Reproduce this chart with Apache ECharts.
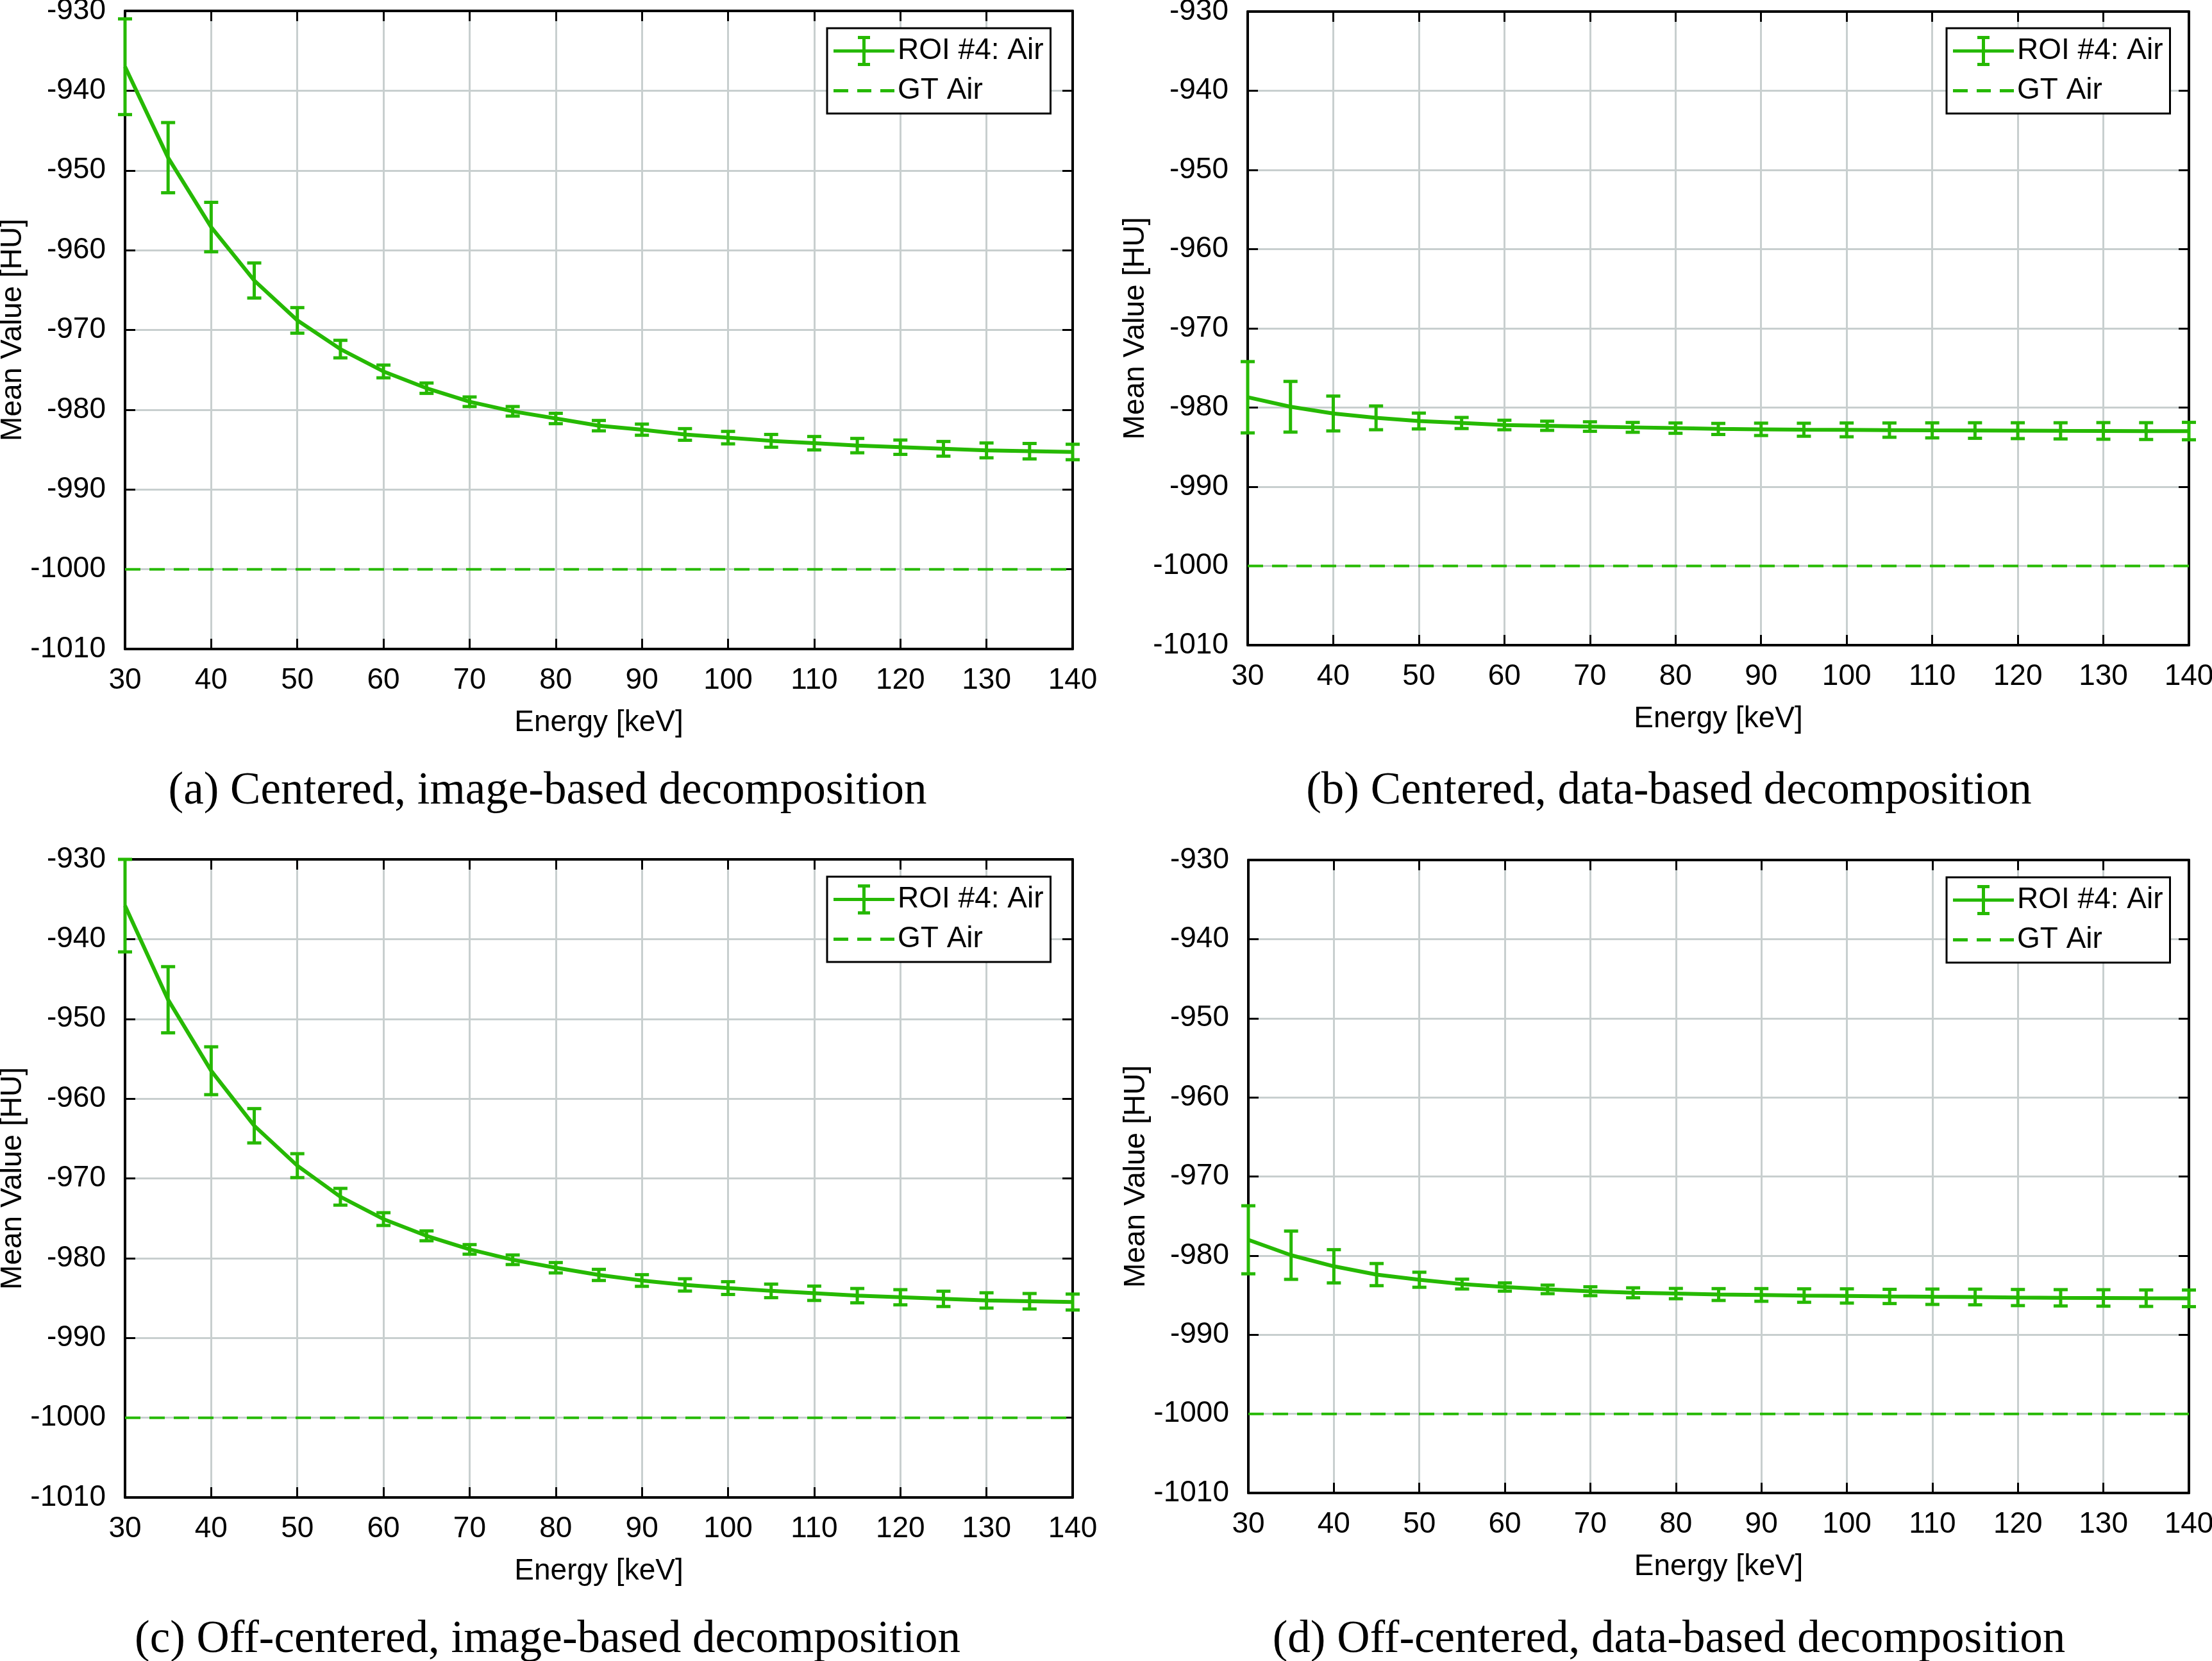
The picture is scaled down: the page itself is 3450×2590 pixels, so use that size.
<!DOCTYPE html>
<html>
<head>
<meta charset="utf-8">
<script src="https://cdn.jsdelivr.net/npm/echarts@6/dist/echarts.min.js"></script>
<style>
  html, body { margin: 0; padding: 0; background: #fff; }
  #chart { width: 3450px; height: 2590px; }
</style>
</head>
<body>
<div id="chart"></div>
<script>
// energies in keV
const energy = [30, 35, 40, 45, 50, 55, 60, 65, 70, 75, 80, 85, 90, 95, 100, 105, 110, 115, 120, 125, 130, 135, 140]

// (a) centered, image-based
const meanA = [-937.0, -948.4, -957.1, -963.8, -968.8, -972.4, -975.2, -977.3, -979.0, -980.2, -981.1, -982.0, -982.5, -983.1, -983.5, -983.9, -984.2, -984.5, -984.7, -984.9, -985.1, -985.2, -985.3]
const errA = [6.0, 4.4, 3.1, 2.2, 1.6, 1.1, 0.8, 0.65, 0.6, 0.6, 0.65, 0.65, 0.7, 0.73, 0.78, 0.8, 0.84, 0.9, 0.9, 0.92, 0.93, 0.97, 0.97]
// (b) centered, data-based
const meanB = [-978.7, -979.9, -980.75, -981.3, -981.7, -981.95, -982.2, -982.3, -982.4, -982.5, -982.6, -982.7, -982.75, -982.8, -982.82, -982.85, -982.88, -982.9, -982.92, -982.94, -982.95, -982.97, -982.97]
const errB = [4.5, 3.2, 2.2, 1.5, 1.0, 0.7, 0.6, 0.58, 0.6, 0.62, 0.65, 0.7, 0.78, 0.82, 0.87, 0.9, 0.95, 0.98, 1.0, 1.02, 1.05, 1.06, 1.1]
// (c) off-centered, image-based
const meanC = [-935.8, -947.6, -956.5, -963.4, -968.4, -972.3, -975.1, -977.2, -978.9, -980.2, -981.2, -982.1, -982.8, -983.35, -983.75, -984.1, -984.4, -984.7, -984.9, -985.1, -985.3, -985.4, -985.5]
const errC = [5.8, 4.15, 3.0, 2.15, 1.5, 1.05, 0.8, 0.62, 0.6, 0.6, 0.65, 0.7, 0.73, 0.77, 0.8, 0.85, 0.9, 0.9, 0.95, 0.96, 0.96, 0.97, 1.0]
// (d) off-centered, data-based
const meanD = [-978.0, -979.95, -981.35, -982.4, -983.05, -983.6, -983.97, -984.27, -984.5, -984.7, -984.8, -984.92, -984.97, -985.05, -985.1, -985.16, -985.2, -985.23, -985.3, -985.33, -985.35, -985.38, -985.4]
const errD = [4.3, 3.05, 2.1, 1.4, 0.95, 0.62, 0.52, 0.54, 0.56, 0.63, 0.65, 0.75, 0.8, 0.85, 0.9, 0.9, 0.97, 0.99, 1.02, 1.03, 1.04, 1.04, 1.05]

// ground truth for air
const gtAir = -1000
const gtRange = [30, 140]

const captions = [
  '(a) Centered, image-based decomposition',
  '(b) Centered, data-based decomposition',
  '(c) Off-centered, image-based decomposition',
  '(d) Off-centered, data-based decomposition'
]

const GREEN = '#26b902'
const GRIDCOL = '#c8cfcf'
const SANS = 'Liberation Sans'

// panel layout
const panels = [
  { grid: { left: 195, top: 17, width: 1478, height: 995 }, mean: meanA, err: errA, legend: { left: 1290, top: 44 }, cap: [854, 1234] },
  { grid: { left: 1946, top: 18, width: 1468, height: 988 }, mean: meanB, err: errB, legend: { left: 3036, top: 44 }, cap: [2603, 1234] },
  { grid: { left: 195, top: 1340, width: 1478, height: 995 }, mean: meanC, err: errC, legend: { left: 1290, top: 1367 }, cap: [854, 2557] },
  { grid: { left: 1947, top: 1341, width: 1467, height: 987 }, mean: meanD, err: errD, legend: { left: 3036, top: 1368 }, cap: [2603, 2557] }
]

// 误差棒
function errorBarItem(params, api) {
  const x = api.value(0)
  const top = api.coord([x, api.value(2)])
  const bot = api.coord([x, api.value(1)])
  const hw = 11
  const style = { stroke: GREEN, lineWidth: 5 }
  return {
    type: 'group',
    children: [
      { type: 'line', shape: { x1: top[0], y1: top[1], x2: bot[0], y2: bot[1] }, style },
      { type: 'line', shape: { x1: top[0] - hw, y1: top[1], x2: top[0] + hw, y2: top[1] }, style },
      { type: 'line', shape: { x1: bot[0] - hw, y1: bot[1], x2: bot[0] + hw, y2: bot[1] }, style }
    ]
  }
}

const axisLine = { show: true, onZero: false, lineStyle: { color: '#000', width: 4 } }
const axisTick = { show: true, inside: true, length: 16, lineStyle: { color: '#000', width: 3 } }
const plainNum = (v) => String(v)

const xAxis = []
const yAxis = []
const series = []
const legend = []
const graphic = []

panels.forEach((p, i) => {
  xAxis.push({
    gridIndex: i, type: 'value', min: 30, max: 140, interval: 10,
    name: 'Energy [keV]', nameLocation: 'middle', nameGap: 92,
    nameTextStyle: { fontFamily: SANS, fontSize: 46, color: '#000' },
    axisLine, axisTick,
    axisLabel: { fontFamily: SANS, fontSize: 46, color: '#000', margin: 26, formatter: plainNum },
    splitLine: { show: true, lineStyle: { color: GRIDCOL, width: 3 } }
  })
  xAxis.push({
    gridIndex: i, type: 'value', position: 'top', min: 30, max: 140, interval: 10,
    axisLine, axisTick, axisLabel: { show: false }, splitLine: { show: false }
  })
  yAxis.push({
    gridIndex: i, type: 'value', min: -1010, max: -930, interval: 10,
    name: 'Mean Value [HU]', nameLocation: 'middle', nameGap: 152,
    nameTextStyle: { fontFamily: SANS, fontSize: 46, color: '#000' },
    axisLine, axisTick,
    axisLabel: { fontFamily: SANS, fontSize: 46, color: '#000', margin: 30, formatter: plainNum },
    splitLine: { show: true, lineStyle: { color: GRIDCOL, width: 3 } }
  })
  yAxis.push({
    gridIndex: i, type: 'value', position: 'right', min: -1010, max: -930, interval: 10,
    axisLine, axisTick, axisLabel: { show: false }, splitLine: { show: false }
  })

  series.push({
    name: 'GT Air', type: 'line', xAxisIndex: 2 * i, yAxisIndex: 2 * i,
    symbol: 'none', color: GREEN,
    lineStyle: { color: GREEN, width: 4, type: [24, 14] },
    data: gtRange.map((e) => [e, gtAir])
  })
  series.push({
    name: 'ROI #4: Air', type: 'line', xAxisIndex: 2 * i, yAxisIndex: 2 * i,
    symbol: 'none', color: GREEN,
    lineStyle: { color: GREEN, width: 6 },
    data: energy.map((e, k) => [e, p.mean[k]])
  })
  series.push({
    name: 'errbar' + i, type: 'custom', xAxisIndex: 2 * i, yAxisIndex: 2 * i,
    renderItem: errorBarItem,
    data: energy.map((e, k) => [e, p.mean[k] - p.err[k], p.mean[k] + p.err[k]])
  })

  legend.push({
    left: p.legend.left, top: p.legend.top,
    orient: 'vertical', align: 'left',
    padding: [12, 11, 12, 10], itemGap: 15,
    itemWidth: 95, itemHeight: 47,
    backgroundColor: '#fff', borderColor: '#000', borderWidth: 3, borderRadius: 0,
    selectedMode: false,
    textStyle: { fontFamily: SANS, fontSize: 46, color: '#000' },
    data: [
      { name: 'ROI #4: Air', icon: 'path://M0,21h95v5H0z M45,0h5v47h-5z M38,0h19v5H38z M38,42h19v5H38z' },
      { name: 'GT Air', icon: 'path://M0,0h0v47h0z M0,21h23v5H0z M37,21h22v5H37z M73,21h22v5H73z' }
    ]
  })

  graphic.push({
    type: 'text', x: p.cap[0], y: p.cap[1],
    style: {
      text: captions[i], fill: '#000',
      font: '71px "Liberation Serif"', textAlign: 'center', textVerticalAlign: 'middle'
    }
  })
})

const chart = echarts.init(document.getElementById('chart'))
chart.setOption({
  animation: false,
  backgroundColor: '#fff',
  grid: panels.map((p) => Object.assign({ outerBoundsMode: 'none', containLabel: false }, p.grid)),
  xAxis, yAxis, series, legend, graphic
})
</script>
</body>
</html>
